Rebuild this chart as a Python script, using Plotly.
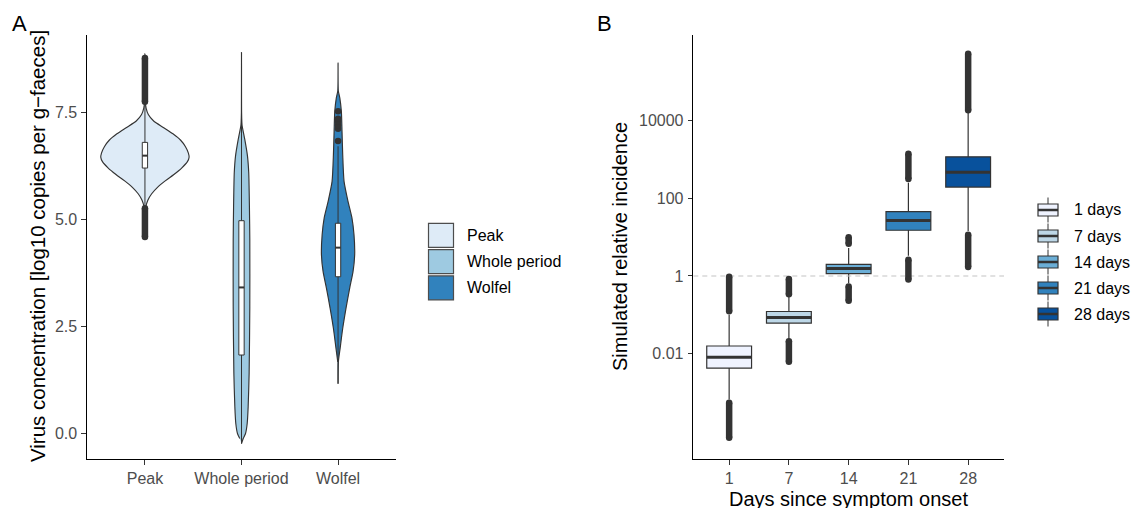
import plotly.graph_objects as go

W, H = 1131, 508
FONT = "Liberation Sans, Arial, Helvetica, sans-serif"
DARK = "#333333"

# ---------------- Panel A data ----------------
a_categories = ["Peak", "Whole period", "Wolfel"]
a_colors = ["#DEEBF7", "#9ECAE1", "#3182BD"]

# violin density outlines: value levels and half-widths (category units)
peak_profile_y = [4.53, 5.0, 5.30, 5.45, 5.6, 5.75, 5.9, 6.05, 6.2, 6.35, 6.45, 6.55, 6.7, 6.85, 7.0, 7.15, 7.3, 7.45, 7.6, 7.75, 8.3, 8.87]
peak_profile_w = [0, 0.003, 0.01, 0.03, 0.07, 0.13, 0.21, 0.30, 0.38, 0.44, 0.457, 0.45, 0.42, 0.37, 0.29, 0.19, 0.09, 0.035, 0.012, 0.004, 0.002, 0]
whole_profile_y = [-0.24, -0.12, -0.01, 0.23, 0.62, 1.40, 2.96, 4.52, 5.30, 6.09, 6.48, 6.87, 7.18, 7.26, 7.5, 8.90]
whole_profile_w = [0, 0.018, 0.041, 0.059, 0.069, 0.079, 0.086, 0.086, 0.082, 0.075, 0.062, 0.034, 0.007, 0.004, 0.001, 0]
wolfel_profile_y = [1.16, 1.67, 1.98, 2.45, 2.92, 3.39, 3.78, 4.17, 4.64, 5.03, 5.42, 5.89, 6.52, 7.06, 7.53, 7.84, 8.0, 8.66]
wolfel_profile_w = [0, 0.003, 0.021, 0.048, 0.082, 0.12, 0.155, 0.172, 0.165, 0.144, 0.103, 0.062, 0.048, 0.041, 0.034, 0.018, 0.003, 0]

a_q1 = [6.20, 1.83, 3.66]
a_median = [6.49, 3.41, 4.34]
a_q3 = [6.80, 4.97, 4.91]
a_lowerfence = [5.32, -0.24, 1.16]
a_upperfence = [7.68, 8.90, 6.71]
a_box_width = 0.055
# outlier ranges (dense columns) for Peak
peak_out_low = [4.59, 5.26]
peak_out_high = [7.75, 8.77]
wolfel_outliers = [6.83, 7.12, 7.20, 7.28, 7.35, 7.53]
a_yticks = [0.0, 2.5, 5.0, 7.5]
a_yticktext = ["0.0", "2.5", "5.0", "7.5"]

# ---------------- Panel B data ----------------
b_categories = ["1", "7", "14", "21", "28"]
b_legend = ["1 days", "7 days", "14 days", "21 days", "28 days"]
b_colors = ["#EFF3FF", "#BDD7E7", "#6BAED6", "#3182BD", "#08519C"]
b_q1 = [0.0042, 0.0611, 1.15, 15.1, 195]
b_median = [0.0081, 0.0855, 1.55, 26.9, 468]
b_q3 = [0.0157, 0.1216, 2.0, 45.7, 1175]
b_lowerfence = [0.00066, 0.024, 0.65, 3.31, 14.5]
b_upperfence = [0.10, 0.316, 5.25, 251, 15850]
b_out_low = [[6.8e-5, 5.4e-4], [0.0062, 0.0209], [0.229, 0.537], [0.81, 2.63], [1.70, 11.5]]
b_out_high = [[0.123, 0.955], [0.339, 0.832], [6.76, 10.0], [316, 1413], [18620, 537000]]
b_box_width = 0.75
b_yticks = [0.01, 1, 100, 10000]
b_yticktext = ["0.01", "1", "100", "10000"]
b_refline = 1


def px(x):
    return x / W


def py(y):
    return 1 - y / H


fig = go.Figure()


def seg(x, y, xa, ya, width=1.0):
    fig.add_trace(go.Scatter(x=x, y=y, mode="lines", line=dict(color=DARK, width=width),
                             xaxis=xa, yaxis=ya, showlegend=False, hoverinfo="skip"))


# ---- Panel A violins ----
a_profiles = [(peak_profile_y, peak_profile_w), (whole_profile_y, whole_profile_w),
              (wolfel_profile_y, wolfel_profile_w)]
for i, (pys, pws) in enumerate(a_profiles):
    c = i + 1
    xs = [c + w for w in pws] + [c - w for w in reversed(pws[1:-1])]
    ys = list(pys) + list(reversed(pys[1:-1]))
    fig.add_trace(go.Scatter(x=xs, y=ys, mode="lines", fill="toself",
                             fillcolor=a_colors[i],
                             line=dict(color=DARK, width=1.15, shape="spline", smoothing=0.6),
                             xaxis="x", yaxis="y", showlegend=False, hoverinfo="skip"))

# ---- Panel A boxes (drawn above the violins) ----
hw = a_box_width / 2
for i in range(3):
    c = i + 1
    seg([c, c], [a_lowerfence[i], a_q1[i]], "x", "y")
    seg([c, c], [a_q3[i], a_upperfence[i]], "x", "y")
    fig.add_trace(go.Scatter(x=[c - hw, c + hw, c + hw, c - hw, c - hw],
                             y=[a_q1[i], a_q1[i], a_q3[i], a_q3[i], a_q1[i]],
                             mode="lines", fill="toself", fillcolor="white",
                             line=dict(color=DARK, width=1),
                             xaxis="x", yaxis="y", showlegend=False, hoverinfo="skip"))
    seg([c - hw, c + hw], [a_median[i], a_median[i]], "x", "y", width=2)

for rng in (peak_out_low, peak_out_high):
    fig.add_trace(go.Scatter(x=[1, 1], y=rng, mode="lines+markers",
                             line=dict(color=DARK, width=6.5),
                             marker=dict(color=DARK, size=6.5),
                             xaxis="x", yaxis="y", showlegend=False))
fig.add_trace(go.Scatter(x=[3] * len(wolfel_outliers), y=wolfel_outliers, mode="markers",
                         marker=dict(color=DARK, size=6.5),
                         xaxis="x", yaxis="y", showlegend=False))

# ---- Panel B ----
fig.add_trace(go.Scatter(x=[0.4, 5.6], y=[b_refline, b_refline], mode="lines",
                         line=dict(color="#C4C4C4", width=1.1, dash="5px,4px"),
                         xaxis="x2", yaxis="y2", showlegend=False))
for i in range(5):
    c = i + 1
    for rng in (b_out_low[i], b_out_high[i]):
        fig.add_trace(go.Scatter(x=[c, c], y=rng, mode="lines+markers",
                                 line=dict(color=DARK, width=6.5),
                                 marker=dict(color=DARK, size=6.5),
                                 xaxis="x2", yaxis="y2", showlegend=False))
    fig.add_trace(go.Box(x=[c], q1=[b_q1[i]], median=[b_median[i]], q3=[b_q3[i]],
                         lowerfence=[b_lowerfence[i]], upperfence=[b_upperfence[i]],
                         width=b_box_width, whiskerwidth=0, fillcolor=b_colors[i],
                         line=dict(color=DARK, width=1.2), boxpoints=False,
                         xaxis="x2", yaxis="y2", showlegend=False))
    seg([c - b_box_width / 2, c + b_box_width / 2], [b_median[i], b_median[i]],
        "x2", "y2", width=3)

axis_common = dict(showgrid=False, zeroline=False, showline=True, linecolor="black",
                   linewidth=1.2, ticks="outside", ticklen=4.5, tickcolor=DARK, tickwidth=1.1,
                   tickfont=dict(family=FONT, size=16, color="#4D4D4D"), automargin=False)

ydom = [py(459), py(35)]
fig.update_layout(
    width=W, height=H, margin=dict(l=0, r=0, t=0, b=0), autosize=False,
    paper_bgcolor="white", plot_bgcolor="white", showlegend=False,
    xaxis=dict(domain=[px(87), px(396)], range=[0.4, 3.6], tickmode="array",
               tickvals=[1, 2, 3], ticktext=a_categories, anchor="y", **axis_common),
    yaxis=dict(domain=ydom, range=[-0.60, 9.31], tickmode="array", tickvals=a_yticks,
               ticktext=a_yticktext, anchor="x", ticklabelstandoff=1, **axis_common),
    xaxis2=dict(domain=[px(693.3), px(1004)], range=[0.4, 5.6], tickmode="array",
                tickvals=[1, 2, 3, 4, 5], ticktext=b_categories, anchor="y2", **axis_common),
    yaxis2=dict(domain=ydom, type="log", range=[-4.716, 6.21], tickmode="array",
                tickvals=b_yticks, ticktext=b_yticktext, anchor="x2", ticklabelstandoff=1,
                **axis_common),
)

ann = []
shapes = []
tfont = dict(family=FONT, size=20, color="black")
ann.append(dict(x=px(37), y=py(246), xref="paper", yref="paper", showarrow=False,
                text="Virus concentration [log10 copies per g\u2212faeces]", textangle=-90,
                xanchor="center", yanchor="middle", font=dict(family=FONT, size=20.5, color="black")))
ann.append(dict(x=px(620), y=py(247), xref="paper", yref="paper", showarrow=False,
                text="Simulated relative incidence", textangle=-90,
                xanchor="center", yanchor="middle", font=tfont))
ann.append(dict(x=px(848.7), y=py(498.5), xref="paper", yref="paper", showarrow=False,
                text="Days since symptom onset", xanchor="center", yanchor="middle", font=tfont))
ann.append(dict(x=px(10), y=py(23), xref="paper", yref="paper", showarrow=False,
                text="A", xanchor="left", yanchor="middle", font=dict(family=FONT, size=22, color="black")))
ann.append(dict(x=px(595), y=py(23), xref="paper", yref="paper", showarrow=False,
                text="B", xanchor="left", yanchor="middle", font=dict(family=FONT, size=22, color="black")))

lfont = dict(family=FONT, size=16, color="black")
# legend A
for i, name in enumerate(a_categories):
    cy = 235.3 + 26.3 * i
    shapes.append(dict(type="rect", xref="paper", yref="paper", x0=px(428.5), x1=px(453.5),
                       y0=py(cy - 12), y1=py(cy + 12), fillcolor=a_colors[i],
                       line=dict(color="#4D4D4D", width=1.2)))
    ann.append(dict(x=px(465), y=py(cy), xref="paper", yref="paper", showarrow=False,
                    text=name, xanchor="left", yanchor="middle", font=lfont))
# legend B
for i, name in enumerate(b_legend):
    cy = 210 + 26 * i
    shapes.append(dict(type="line", xref="paper", yref="paper", x0=px(1048), x1=px(1048),
                       y0=py(cy - 12.5), y1=py(cy + 12.5), line=dict(color=DARK, width=1)))
    shapes.append(dict(type="rect", xref="paper", yref="paper", x0=px(1038), x1=px(1058),
                       y0=py(cy - 6), y1=py(cy + 6), fillcolor=b_colors[i],
                       line=dict(color=DARK, width=1.2)))
    shapes.append(dict(type="line", xref="paper", yref="paper", x0=px(1038), x1=px(1058),
                       y0=py(cy), y1=py(cy), line=dict(color=DARK, width=2.5)))
    ann.append(dict(x=px(1072), y=py(cy), xref="paper", yref="paper", showarrow=False,
                    text=name, xanchor="left", yanchor="middle", font=lfont))

fig.update_layout(annotations=ann, shapes=shapes)
fig.write_html("out.html")
